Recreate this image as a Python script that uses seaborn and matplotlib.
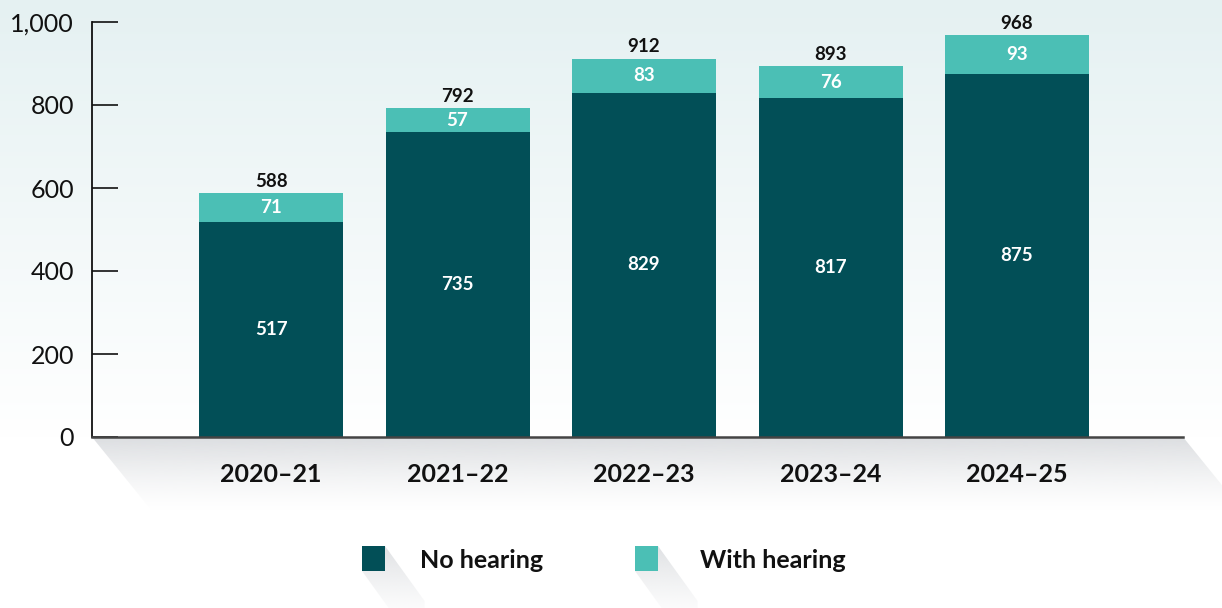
import numpy as np
import matplotlib
matplotlib.use("Agg")
import matplotlib.pyplot as plt
import matplotlib.colors as mcolors
from matplotlib.patches import Polygon, Rectangle
from matplotlib.ticker import FuncFormatter
import seaborn as sns

# Data
years = ["2020–21", "2021–22", "2022–23", "2023–24", "2024–25"]
no_hearing = [517, 735, 829, 817, 875]
with_hearing = [71, 57, 83, 76, 93]
totals = [588, 792, 912, 893, 968]
y_ticks = [0, 200, 400, 600, 800, 1000]
series_names = ["No hearing", "With hearing"]

DARK = "#024f57"
LIGHT = "#4bbfb5"
SHADOW = "#dcdee1"

sns.set_theme(style="white")
plt.rcParams["font.family"] = ["Lato", "DejaVu Sans"]

W, H = 1222, 608
fig = plt.figure(figsize=(W / 100, H / 100), dpi=100)
fig.patch.set_facecolor("white")

# Decoration layer in pixel coordinates
bg = fig.add_axes([0, 0, 1, 1], zorder=0)

# Mint wash fading to white toward the baseline
t = np.linspace(0, 1, 256)[:, None, None]
top = np.array(mcolors.to_rgb("#e5f1f2"))[None, None, :]
wash = top * (1 - t) + np.ones(3)[None, None, :] * t
bg.imshow(wash, extent=[0, W, 437, 0], aspect="auto", interpolation="bicubic")


def long_shadow(x0, x1, y0, y1, length, slope=0.8, fade=1.0):
    """Gray diagonal shadow cast from the rectangle (x0..x1, y0..y1)."""
    dx, dy = length * slope, length
    pts = [(x0, y0), (x1, y0), (x1 + dx, y0 + dy), (x1 + dx, y1 + dy),
           (x0 + dx, y1 + dy), (x0, y1)]
    poly = Polygon(pts, closed=True, transform=bg.transData,
                   facecolor="none", edgecolor="none")
    bg.add_patch(poly)
    n = 256
    a = (1 - np.linspace(0, 1, n)) ** 1.4 * fade
    rgba = np.zeros((n, 1, 4))
    rgba[..., :3] = mcolors.to_rgb(SHADOW)
    rgba[:, 0, 3] = a
    im = bg.imshow(rgba, extent=[x0, x1 + dx, y1 + dy, y0], aspect="auto",
                   interpolation="bicubic", zorder=1)
    im.set_clip_path(poly)


# Shadow beneath the baseline
long_shadow(92, 1183, 437, 437, 75, slope=0.81)

# Legend drawn as squares with long shadows
legend_items = [(362, 420, DARK, series_names[0]), (635, 700, LIGHT, series_names[1])]
for sx, tx, col, name in legend_items:
    long_shadow(sx, sx + 23, 546, 571, 55, slope=0.72, fade=0.9)
    bg.add_patch(Rectangle((sx, 546), 23, 25, facecolor=col, edgecolor="none", zorder=3))
    bg.text(tx, 560, name, fontsize=18, fontweight="bold", color="#111111",
            va="center", ha="left", zorder=3)

bg.set_xlim(0, W)
bg.set_ylim(H, 0)
bg.axis("off")

# Main chart
ax = fig.add_axes([92 / W, 1 - 437 / H, (1183 - 92) / W, (437 - 22) / H], zorder=2)
ax.patch.set_alpha(0)

sns.barplot(x=years, y=totals, color=LIGHT, width=0.772, saturation=1,
            linewidth=0, ax=ax)
sns.barplot(x=years, y=no_hearing, color=DARK, width=0.772, saturation=1,
            linewidth=0, ax=ax)

for i in range(len(years)):
    ax.annotate(f"{totals[i]}", (i, totals[i]), xytext=(0, 2.5),
                textcoords="offset points", ha="center", va="bottom",
                fontsize=13.5, fontweight="bold", color="#111111")
    ax.text(i, no_hearing[i] + with_hearing[i] / 2, f"{with_hearing[i]}",
            ha="center", va="center", fontsize=13.5, fontweight="bold",
            color="white")
    ax.text(i, no_hearing[i] / 2, f"{no_hearing[i]}",
            ha="center", va="center", fontsize=13.5, fontweight="bold",
            color="white")

ax.set_xlim(-0.96, 4.89)
ax.set_ylim(0, 1000)
ax.set_yticks(y_ticks)
ax.yaxis.set_major_formatter(FuncFormatter(lambda v, p: f"{int(v):,}"))
ax.set_xlabel("")
ax.set_ylabel("")

for side in ["top", "right"]:
    ax.spines[side].set_visible(False)
ax.spines["left"].set_color("#111111")
ax.spines["left"].set_linewidth(1.3)
ax.spines["bottom"].set_color("#444444")
ax.spines["bottom"].set_linewidth(1.8)

ax.tick_params(axis="y", direction="in", length=18.5, width=1.2, color="#111111",
               pad=13, labelsize=18, labelcolor="#111111", left=True)
ax.tick_params(axis="x", length=0, pad=19, labelsize=18, labelcolor="#111111")
for lbl in ax.get_xticklabels():
    lbl.set_fontweight("bold")

fig.savefig("out.png", dpi=100, facecolor="white")
